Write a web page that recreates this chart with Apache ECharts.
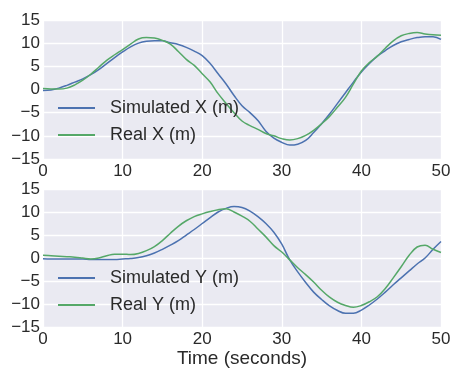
<!DOCTYPE html>
<html>
<head>
<meta charset="utf-8">
<script src="https://cdn.jsdelivr.net/npm/echarts@6/dist/echarts.min.js"></script>
<style>
html,body{margin:0;padding:0;background:#fff;}
#chart{width:454px;height:369px;}
</style>
</head>
<body>
<div id="chart"></div>
<script>
const time = [0,1,2,3,4,5,6,7,8,9,10,11,12,13,14,15,16,17,18,19,20,21,22,23,24,25,26,27,28,29,30,31,32,33,34,35,36,37,38,39,40,41,42,43,44,45,46,47,48,49,50];
const simX = [-0.2,-0.1,0.3,0.9,1.6,2.3,3.2,4.3,5.6,6.9,8.1,9.2,10.0,10.4,10.5,10.5,10.1,9.7,9.1,8.3,7.3,5.6,3.4,1.2,-1.3,-3.5,-5.0,-6.7,-9.0,-10.5,-11.4,-12.0,-11.8,-11.0,-9.3,-7.4,-5.3,-3.0,-0.7,1.6,3.8,5.6,7.2,8.4,9.5,10.3,10.8,11.2,11.4,11.4,10.8];
const realX = [0.2,0.1,0.1,0.3,1.0,2.0,3.3,4.8,6.3,7.5,8.6,9.8,10.9,11.2,11.1,10.6,9.8,8.2,6.5,5.2,3.4,1.6,-0.9,-3.0,-5.0,-6.8,-7.8,-8.6,-9.5,-10.0,-10.6,-10.9,-10.6,-9.9,-8.8,-7.4,-5.8,-3.8,-1.7,1.2,4.0,5.8,7.2,8.9,10.5,11.6,12.1,12.3,12.0,11.8,11.7];
const simY = [-0.15,-0.2,-0.2,-0.2,-0.2,-0.2,-0.3,-0.3,-0.3,-0.3,-0.2,-0.1,0.1,0.5,1.1,1.9,2.8,3.8,5.0,6.2,7.5,8.8,10.0,10.8,11.2,11.0,10.2,9.0,7.5,5.6,3.0,-0.4,-3.0,-5.3,-7.4,-9.0,-10.4,-11.4,-12.0,-12.0,-11.3,-10.2,-8.9,-7.4,-5.8,-4.3,-2.8,-1.3,0.0,1.9,3.6];
const realY = [0.6,0.5,0.4,0.3,0.2,0.0,-0.2,0.0,0.5,0.85,0.85,0.75,1.0,1.6,2.5,3.8,5.4,6.9,8.1,9.0,9.6,10.1,10.5,10.7,10.0,9.1,8.0,6.3,4.6,2.7,1.3,-0.4,-2.1,-3.6,-5.2,-7.0,-8.5,-9.6,-10.3,-10.7,-10.3,-9.5,-8.4,-6.6,-4.3,-1.9,0.6,2.4,2.8,1.9,1.2];
const xTicks = [0,10,20,30,40,50];
const yTicks = [-15,-10,-5,0,5,10,15];

const FONT = '"Liberation Sans", Arial, sans-serif';
const TXT = '#2a2a2a';
const BLUE = '#4C72B0';
const GREEN = '#55A868';

const chart = echarts.init(document.getElementById('chart'), null, {renderer:'canvas'});
const pair = arr => time.map((t,i)=>[t, arr[i]]);
const fmtY = v => String(v).replace('-', '\u2212');

function xAxis(gi, withName){
  const a = {
    type:'value', gridIndex:gi, min:xTicks[0], max:xTicks[xTicks.length-1], interval:10,
    axisLine:{show:false}, axisTick:{show:false},
    splitLine:{show:true, lineStyle:{color:'#ffffff', width:1.3}},
    axisLabel:{color:TXT, fontSize:17, fontFamily:FONT, margin:4, showMinLabel:true, showMaxLabel:true}
  };
  if(withName){
    a.name = 'Time (seconds)';
    a.nameLocation = 'middle';
    a.nameGap = 21;
    a.nameTextStyle = {color:TXT, fontSize:19, fontFamily:FONT};
  }
  return a;
}
function yAxis(gi){
  return {
    type:'value', gridIndex:gi, min:yTicks[0], max:yTicks[yTicks.length-1], interval:5,
    axisLine:{show:false}, axisTick:{show:false},
    splitLine:{show:true, lineStyle:{color:'#ffffff', width:1.3}},
    axisLabel:{color:TXT, fontSize:17, fontFamily:FONT, margin:3, formatter:fmtY, showMinLabel:true, showMaxLabel:true}
  };
}
function line(name, arr, color, gi){
  return {
    name, type:'line', xAxisIndex:gi, yAxisIndex:gi, data:pair(arr),
    showSymbol:false, smooth:0.4, animation:false,
    lineStyle:{color, width:1.5}, itemStyle:{color}
  };
}
function legend(names, top){
  return {
    data:names, orient:'vertical', left:58, top:top, padding:0, itemGap:7,
    icon:'rect', itemWidth:37, itemHeight:2,
    textStyle:{color:TXT, fontSize:18, fontFamily:FONT, lineHeight:20, padding:[0,0,0,10]}
  };
}

chart.setOption({
  backgroundColor:'#ffffff',
  animation:false,
  grid:[
    {left:43, top:20, width:398, height:139, show:true, backgroundColor:'#EAEAF2', borderWidth:0},
    {left:43, top:189, width:398, height:140, show:true, backgroundColor:'#EAEAF2', borderWidth:0}
  ],
  xAxis:[xAxis(0,false), xAxis(1,true)],
  yAxis:[yAxis(0), yAxis(1)],
  legend:[legend(['Simulated X (m)','Real X (m)'], 98), legend(['Simulated Y (m)','Real Y (m)'], 268)],
  series:[
    line('Simulated X (m)', simX, BLUE, 0),
    line('Real X (m)', realX, GREEN, 0),
    line('Simulated Y (m)', simY, BLUE, 1),
    line('Real Y (m)', realY, GREEN, 1)
  ]
});
</script>
</body>
</html>
